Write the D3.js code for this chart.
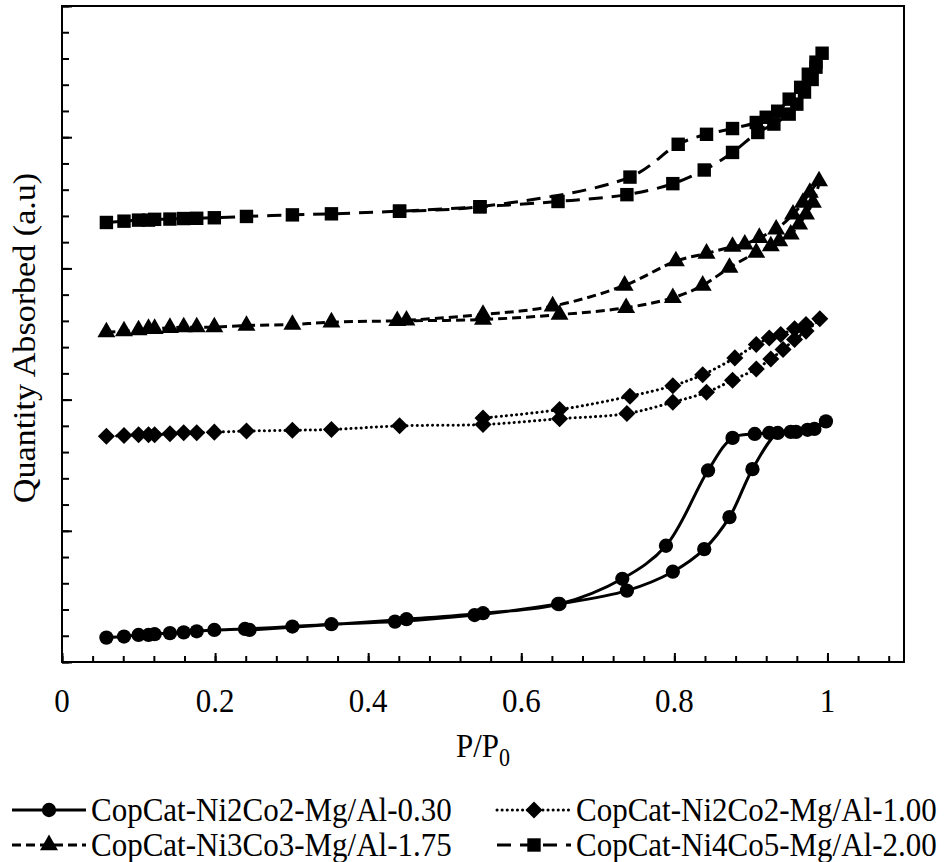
<!DOCTYPE html>
<html>
<head>
<meta charset="utf-8">
<script src="https://cdn.jsdelivr.net/npm/d3@7"></script>
<style>
  body { margin: 0; background: #fff; }
  svg text { font-family: "Liberation Serif", "Times New Roman", serif; fill: #000; }
</style>
</head>
<body>
<div id="chart"></div>
<script>
// P/P0 values and quantity absorbed (arbitrary units)
// adsorption goes up in P/P0, desorption comes back down

var adsP_030 = [0.058, 0.081, 0.100, 0.113, 0.121, 0.141, 0.159, 0.176, 0.199, 0.239, 0.301, 0.352, 0.435, 0.539, 0.648, 0.738, 0.798, 0.839, 0.872, 0.902, 0.935, 0.952, 0.974, 0.998];
var adsQ_030 = [0.93, 0.97, 1.03, 1.03, 1.06, 1.10, 1.13, 1.17, 1.22, 1.26, 1.35, 1.44, 1.54, 1.79, 2.21, 2.72, 3.44, 4.30, 5.52, 7.35, 8.73, 8.77, 8.85, 9.17];
var desP_030 = [0.983, 0.959, 0.924, 0.905, 0.876, 0.844, 0.789, 0.732, 0.650, 0.550, 0.450, 0.245];
var desQ_030 = [8.88, 8.77, 8.73, 8.69, 8.54, 7.30, 4.43, 3.17, 2.21, 1.86, 1.63, 1.22];

var adsP_100 = [0.058, 0.081, 0.100, 0.113, 0.121, 0.141, 0.159, 0.176, 0.199, 0.241, 0.301, 0.352, 0.441, 0.550, 0.650, 0.738, 0.798, 0.842, 0.876, 0.907, 0.926, 0.942, 0.957, 0.972, 0.990];
var adsQ_100 = [8.60, 8.63, 8.66, 8.66, 8.66, 8.70, 8.74, 8.74, 8.76, 8.80, 8.83, 8.86, 9.00, 9.05, 9.27, 9.47, 9.90, 10.28, 10.74, 11.17, 11.55, 11.91, 12.29, 12.61, 13.08];
var desP_100 = [0.972, 0.957, 0.939, 0.924, 0.907, 0.879, 0.837, 0.798, 0.742, 0.650, 0.550];
var desQ_100 = [12.86, 12.70, 12.48, 12.35, 12.10, 11.59, 10.95, 10.53, 10.13, 9.62, 9.30];

var adsP_175 = [0.058, 0.081, 0.100, 0.113, 0.121, 0.141, 0.159, 0.176, 0.199, 0.241, 0.301, 0.352, 0.438, 0.550, 0.650, 0.737, 0.798, 0.837, 0.872, 0.907, 0.926, 0.937, 0.952, 0.963, 0.972, 0.981, 0.989];
var adsQ_175 = [12.57, 12.61, 12.65, 12.70, 12.70, 12.74, 12.76, 12.76, 12.76, 12.82, 12.86, 12.95, 13.00, 13.05, 13.24, 13.50, 13.88, 14.35, 15.03, 15.60, 15.85, 16.04, 16.30, 16.68, 17.06, 17.51, 18.33];
var desP_175 = [0.977, 0.968, 0.955, 0.933, 0.911, 0.892, 0.876, 0.842, 0.802, 0.735, 0.641, 0.550, 0.450];
var desQ_175 = [17.89, 17.51, 17.06, 16.49, 16.17, 15.92, 15.83, 15.57, 15.28, 14.35, 13.56, 13.24, 13.02];

var adsP_200 = [0.058, 0.081, 0.100, 0.113, 0.121, 0.141, 0.159, 0.176, 0.199, 0.241, 0.301, 0.352, 0.441, 0.546, 0.648, 0.738, 0.798, 0.839, 0.876, 0.909, 0.930, 0.950, 0.960, 0.970, 0.980, 0.985, 0.993];
var adsQ_200 = [16.75, 16.80, 16.84, 16.84, 16.87, 16.88, 16.90, 16.91, 16.93, 16.98, 17.04, 17.08, 17.18, 17.35, 17.55, 17.81, 18.23, 18.75, 19.42, 20.18, 20.50, 20.88, 21.26, 21.72, 22.20, 22.67, 23.20];
var desP_200 = [0.985, 0.975, 0.965, 0.950, 0.935, 0.920, 0.907, 0.876, 0.842, 0.805, 0.742, 0.546, 0.441];
var desQ_200 = [22.86, 22.40, 21.90, 21.45, 20.99, 20.76, 20.56, 20.33, 20.11, 19.73, 18.48, 17.35, 17.18];

var seriesNames = ["CopCat-Ni2Co2-Mg/Al-0.30", "CopCat-Ni2Co2-Mg/Al-1.00", "CopCat-Ni3Co3-Mg/Al-1.75", "CopCat-Ni4Co5-Mg/Al-2.00"];
var xMajorTicks = [0, 0.2, 0.4, 0.6, 0.8, 1];
var xTickLabels = ["0", "0.2", "0.4", "0.6", "0.8", "1"];

var width = 946;
var height = 862;
var plotLeft = 62, plotRight = 904, plotTop = 6, plotBottom = 662;
var stretch = 1.1; // the text in the picture is a bit taller than wide

var svg = d3.select("#chart").append("svg")
    .attr("width", width)
    .attr("height", height);

var xScale = d3.scaleLinear().domain([0, 1.1]).range([plotLeft, plotRight]);
var yScale = d3.scaleLinear().domain([0, 25]).range([plotBottom, plotTop]);

// ticks point into the plot
var xMinor = d3.axisBottom(xScale).tickValues(d3.range(0, 1.1, 0.04)).tickSize(-6).tickFormat("");
var xMajor = d3.axisBottom(xScale).tickValues(xMajorTicks).tickSize(-9).tickFormat("");
var yMinor = d3.axisLeft(yScale).tickValues(d3.range(0, 26, 1)).tickSize(-7).tickFormat("");
var yMajor = d3.axisLeft(yScale).tickValues(d3.range(0, 26, 5)).tickSize(-10).tickFormat("");

function styleAxis(g) {
    g.select(".domain").remove();
    g.selectAll("line").attr("stroke", "#000").attr("stroke-width", 2);
}

svg.append("g").attr("transform", "translate(0," + plotBottom + ")").call(xMinor).call(styleAxis);
svg.append("g").attr("transform", "translate(0," + plotBottom + ")").call(xMajor).call(styleAxis);
svg.append("g").attr("transform", "translate(" + plotLeft + ",0)").call(yMinor).call(styleAxis);
svg.append("g").attr("transform", "translate(" + plotLeft + ",0)").call(yMajor).call(styleAxis);

// tick labels
svg.append("g").selectAll("text")
    .data(xMajorTicks)
    .enter()
    .append("text")
    .attr("transform", function(d) {
        return "translate(" + xScale(d) + ",712) scale(1," + stretch + ")";
    })
    .attr("text-anchor", "middle")
    .attr("font-size", 31)
    .text(function(d, i) { return xTickLabels[i]; });

svg.append("rect")
    .attr("x", plotLeft).attr("y", plotTop)
    .attr("width", plotRight - plotLeft).attr("height", plotBottom - plotTop)
    .attr("fill", "none").attr("stroke", "#000").attr("stroke-width", 2);

// axis titles
svg.append("text")
    .attr("transform", "translate(35," + ((plotTop + plotBottom) / 2 + 4) + ")rotate(-90)scale(" + stretch + ",1)")
    .attr("text-anchor", "middle")
    .attr("font-size", 31)
    .text("Quantity Absorbed (a.u)");

var xt = svg.append("text")
    .attr("transform", "translate(" + ((plotLeft + plotRight) / 2) + ",757) scale(1," + stretch + ")")
    .attr("text-anchor", "middle")
    .attr("font-size", 31);
xt.append("tspan").text("P/P");
xt.append("tspan").attr("dy", 8).attr("font-size", 22).text("0");

// series
function build(ap, aq, dp, dq) {
    var pts = [];
    ap.forEach(function(p, i) { pts.push([p, aq[i]]); });
    dp.forEach(function(p, i) { pts.push([p, dq[i]]); });
    return pts;
}

var diamond = {
    draw: function(ctx, size) {
        var r = Math.sqrt(size / 2);
        ctx.moveTo(0, -r); ctx.lineTo(r, 0); ctx.lineTo(0, r); ctx.lineTo(-r, 0); ctx.closePath();
    }
};

var seriesList = [
    { pts: build(adsP_030, adsQ_030, desP_030, desQ_030), sym: d3.symbolCircle, size: 160, dash: null, cap: "butt" },
    { pts: build(adsP_100, adsQ_100, desP_100, desQ_100), sym: diamond, size: 145, dash: "0.1,5", cap: "round" },
    { pts: build(adsP_175, adsQ_175, desP_175, desQ_175), sym: d3.symbolTriangle, size: 140, dash: "9,5", cap: "butt" },
    { pts: build(adsP_200, adsQ_200, desP_200, desQ_200), sym: d3.symbolSquare, size: 180, dash: "14,9", cap: "butt" }
];

var line = d3.line()
    .x(function(d) { return xScale(d[0]); })
    .y(function(d) { return yScale(d[1]); })
    .curve(d3.curveCatmullRom.alpha(0.5));

seriesList.forEach(function(s) {
    svg.append("path")
        .attr("d", line(s.pts))
        .attr("fill", "none")
        .attr("stroke", "#000")
        .attr("stroke-width", 3)
        .attr("stroke-linecap", s.cap)
        .attr("stroke-dasharray", s.dash);

    svg.append("g").selectAll("path")
        .data(s.pts)
        .enter()
        .append("path")
        .attr("d", d3.symbol().type(s.sym).size(s.size))
        .attr("transform", function(d) {
            return "translate(" + xScale(d[0]) + "," + yScale(d[1]) + ")";
        })
        .attr("fill", "#000");
});

// legend
var legendPos = [[12, 810], [497, 810], [12, 845], [497, 845]];
seriesList.forEach(function(s, i) {
    var lx = legendPos[i][0], ly = legendPos[i][1];
    var g = svg.append("g").attr("transform", "translate(" + lx + "," + ly + ")");
    g.append("line")
        .attr("x1", 0).attr("x2", 74)
        .attr("y1", 0).attr("y2", 0)
        .attr("stroke", "#000").attr("stroke-width", 3)
        .attr("stroke-linecap", s.cap)
        .attr("stroke-dasharray", s.dash);
    g.append("path")
        .attr("d", d3.symbol().type(s.sym).size(s.size))
        .attr("transform", "translate(37,0)")
        .attr("fill", "#000");
    g.append("text")
        .attr("transform", "translate(79,11) scale(1," + stretch + ")")
        .attr("font-size", 31)
        .text(seriesNames[i]);
});
</script>
</body>
</html>
